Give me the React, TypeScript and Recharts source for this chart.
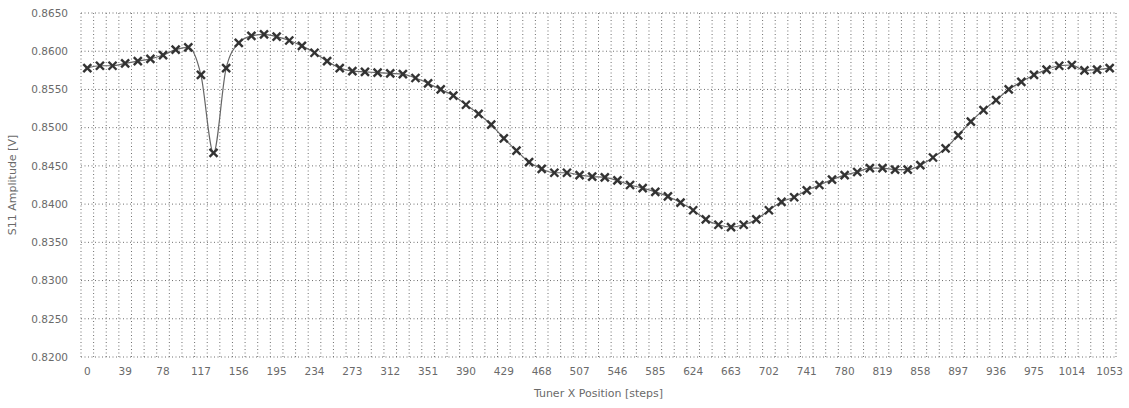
import React from 'react';
import { LineChart, Line, XAxis, YAxis, CartesianGrid, Label } from 'recharts';

const positions = [
  0, 13, 26, 39, 52, 65, 78, 91, 104, 117, 130, 143, 156, 169, 182, 195, 208, 221, 234, 247,
  260, 273, 286, 299, 312, 325, 338, 351, 364, 377, 390, 403, 416, 429, 442, 455, 468, 481, 494, 507,
  520, 533, 546, 559, 572, 585, 598, 611, 624, 637, 650, 663, 676, 689, 702, 715, 728, 741, 754, 767,
  780, 793, 806, 819, 832, 845, 858, 871, 884, 897, 910, 923, 936, 949, 962, 975, 988, 1001, 1014, 1027,
  1040, 1053,
];

const amplitude = [
  0.8578, 0.8581, 0.8581, 0.8584, 0.8587, 0.859, 0.8595, 0.8602, 0.8605, 0.8569,
  0.8467, 0.8578, 0.8611, 0.862, 0.8622, 0.8619, 0.8614, 0.8607, 0.8598, 0.8587,
  0.8578, 0.8574, 0.8573, 0.8572, 0.8571, 0.857, 0.8565, 0.8558, 0.855, 0.8542,
  0.853, 0.8518, 0.8504, 0.8486, 0.847, 0.8455, 0.8446, 0.8441, 0.8441, 0.8438,
  0.8436, 0.8435, 0.8431, 0.8425, 0.8421, 0.8416, 0.841, 0.8402, 0.8392, 0.838,
  0.8373, 0.837, 0.8373, 0.838, 0.8392, 0.8403, 0.8409, 0.8418, 0.8425, 0.8432,
  0.8438, 0.8442, 0.8447, 0.8447, 0.8445, 0.8445, 0.8451, 0.8461, 0.8473, 0.849,
  0.8508, 0.8523, 0.8536, 0.855, 0.856, 0.8569, 0.8576, 0.8581, 0.8582, 0.8575,
  0.8576, 0.8578,
];

const xTicks = [
  0, 39, 78, 117, 156, 195, 234, 273, 312, 351, 390, 429, 468, 507, 546, 585, 624, 663, 702, 741,
  780, 819, 858, 897, 936, 975, 1014, 1053,
];

const X_DOMAIN: [number, number] = [-6.5, 1059.5];

// band boundaries between sample positions (half a step either side)
const gridBoundaries = [
  -6.5, 6.5, 19.5, 32.5, 45.5, 58.5, 71.5, 84.5, 97.5, 110.5, 123.5, 136.5, 149.5, 162.5, 175.5, 188.5,
  201.5, 214.5, 227.5, 240.5, 253.5, 266.5, 279.5, 292.5, 305.5, 318.5, 331.5, 344.5, 357.5, 370.5,
  383.5, 396.5, 409.5, 422.5, 435.5, 448.5, 461.5, 474.5, 487.5, 500.5, 513.5, 526.5, 539.5, 552.5,
  565.5, 578.5, 591.5, 604.5, 617.5, 630.5, 643.5, 656.5, 669.5, 682.5, 695.5, 708.5, 721.5, 734.5,
  747.5, 760.5, 773.5, 786.5, 799.5, 812.5, 825.5, 838.5, 851.5, 864.5, 877.5, 890.5, 903.5, 916.5,
  929.5, 942.5, 955.5, 968.5, 981.5, 994.5, 1007.5, 1020.5, 1033.5, 1046.5, 1059.5,
];

const yTicks = [0.82, 0.825, 0.83, 0.835, 0.84, 0.845, 0.85, 0.855, 0.86, 0.865];

const data = positions.map((p, i) => ({ pos: p, amp: amplitude[i] }));

const FONT = '"DejaVu Sans", sans-serif';
const TEXT_COLOR = '#6a6a6a';

const XDot = (props: any) => {
  const { cx, cy, index } = props;
  if (cx == null || cy == null) return null;
  const r = 4;
  return (
    <g key={`dot-${index}`}>
      <line x1={cx - r} y1={cy - r} x2={cx + r} y2={cy + r} stroke="#333333" strokeWidth={2.4} />
      <line x1={cx - r} y1={cy + r} x2={cx + r} y2={cy - r} stroke="#333333" strokeWidth={2.4} />
    </g>
  );
};

const YTitle = (props: any) => {
  const vb = props.viewBox || { x: 0, y: 0, width: 0, height: 0 };
  const cx = vb.x + 12;
  const cy = vb.y + vb.height / 2;
  return (
    <text
      x={cx}
      y={cy}
      transform={`rotate(-90, ${cx}, ${cy})`}
      textAnchor="middle"
      dominantBaseline="central"
      fontFamily={FONT}
      fontSize={11}
      fill={TEXT_COLOR}
    >
      S11 Amplitude [V]
    </text>
  );
};

const verticalGen = (args: any) => {
  const { xAxis, offset } = args || {};
  if (xAxis && typeof xAxis.scale === 'function') {
    return gridBoundaries.map((v) => xAxis.scale(v));
  }
  const left = offset?.left ?? 0;
  const w = offset?.width ?? 0;
  return gridBoundaries.map((v) => left + ((v - X_DOMAIN[0]) / (X_DOMAIN[1] - X_DOMAIN[0])) * w);
};

export default function App() {
  return (
    <div style={{ width: 1129, height: 408 }}>
      <style>{`body{margin:0}`}</style>
      <LineChart
        width={1129}
        height={408}
        data={data}
        margin={{ top: 13, right: 13, bottom: 6, left: 0 }}
      >
        <CartesianGrid
          stroke="#6f6f6f"
          strokeDasharray="1 2.5"
          horizontal
          vertical
          verticalCoordinatesGenerator={verticalGen}
        />
        <XAxis
          dataKey="pos"
          type="number"
          domain={X_DOMAIN}
          ticks={xTicks}
          interval={0}
          height={45}
          axisLine={false}
          tickLine={false}
          tickSize={6}
          tickMargin={5}
          tick={{ fontFamily: FONT, fontSize: 10.5, fill: TEXT_COLOR }}
        >
          <Label
            value="Tuner X Position [steps]"
            position="insideBottom"
            offset={5}
            style={{ fontFamily: FONT, fontSize: 11, fill: TEXT_COLOR }}
          />
        </XAxis>
        <YAxis
          type="number"
          domain={[0.82, 0.865]}
          ticks={yTicks}
          interval={0}
          width={81}
          axisLine={false}
          tickLine={false}
          tickSize={6}
          tickMargin={7}
          tickFormatter={(v: number) => v.toFixed(4)}
          tick={{ fontFamily: FONT, fontSize: 10.5, fill: TEXT_COLOR }}
        >
          <Label content={<YTitle />} />
        </YAxis>
        <Line
          type="monotone"
          dataKey="amp"
          stroke="#666666"
          strokeWidth={1.2}
          dot={<XDot />}
          activeDot={false}
          isAnimationActive={false}
        />
      </LineChart>
    </div>
  );
}
